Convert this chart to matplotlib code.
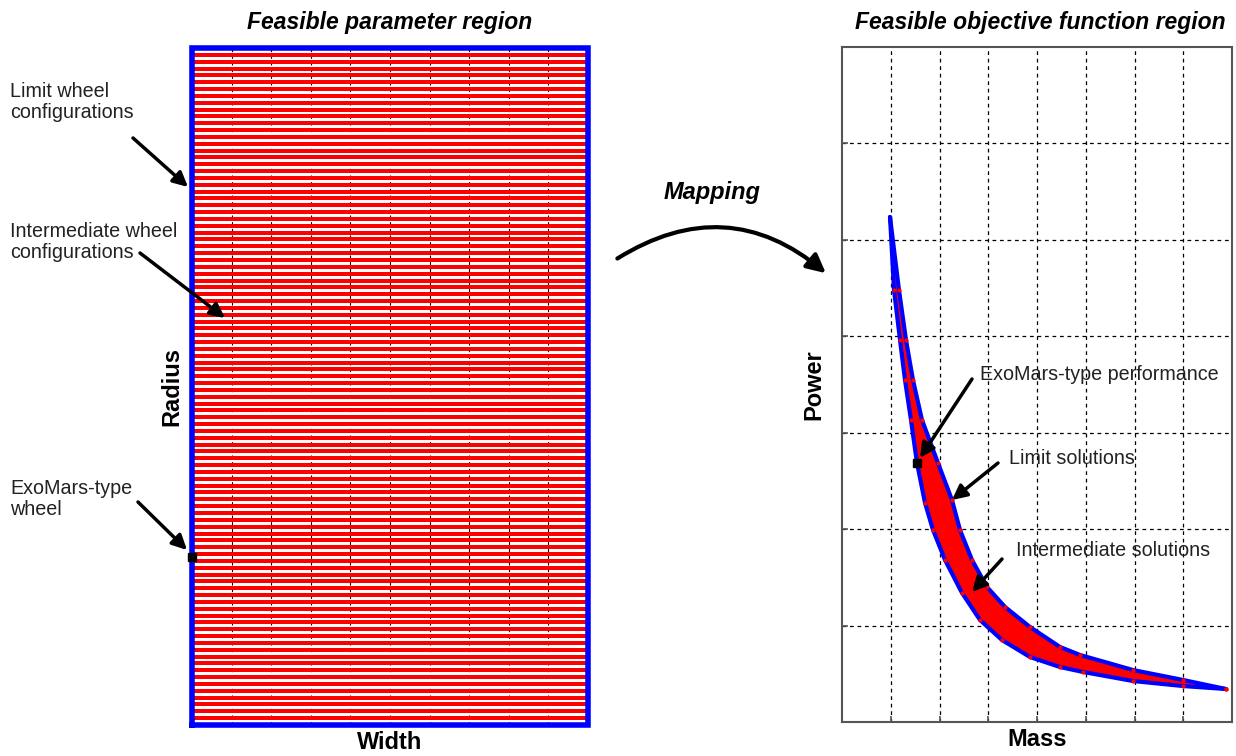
import numpy as np
import matplotlib
matplotlib.use('Agg')
import matplotlib.pyplot as plt
from matplotlib.patches import FancyArrowPatch

plt.rcParams['font.family'] = ['Liberation Sans', 'DejaVu Sans']

W, H = 1236, 756

# parameter sweep (width x radius), sampled on a regular grid
n_width = 100
n_radius = 100
width_range = (0.0, 10.0)
radius_range = (0.0, 10.0)
exomars_param = (0.0, 2.48)

# feasible objective region, boundaries (mass, power)
lower_mass = [0.985, 1.067, 1.190, 1.292, 1.415, 1.538, 1.703, 1.867, 2.113,
              2.462, 2.831, 3.282, 3.856, 4.472, 4.944, 5.969, 6.995, 7.877]
lower_power = [5.237, 4.480, 3.961, 3.547, 3.132, 2.686, 2.271, 1.991, 1.680,
               1.338, 1.058, 0.850, 0.674, 0.570, 0.519, 0.425, 0.373, 0.342]
upper_mass = [0.985, 1.169, 1.313, 1.456, 1.641, 1.969, 2.256, 2.421, 2.667,
              2.974, 3.344, 3.856, 4.472, 4.882, 5.969, 6.995, 7.877]
upper_power = [5.237, 4.480, 3.961, 3.547, 3.132, 2.686, 2.302, 1.991, 1.680,
               1.400, 1.193, 0.985, 0.778, 0.695, 0.539, 0.436, 0.342]
exomars_obj = (1.54, 2.69)

txt_color = '#222222'


def fp(x, y):
    # pixel (from top-left) -> figure fraction
    return (x / W, 1 - y / H)


fig = plt.figure(figsize=(W / 100, H / 100), dpi=100)

# ---- left panel: parameter region
ax1 = fig.add_axes([192 / W, 1 - 725 / H, 396 / W, 677 / H])
wv = np.linspace(*width_range, n_width)
rv = np.linspace(*radius_range, n_radius)
WW, RR = np.meshgrid(wv, rv)
for gx in range(1, 10):
    ax1.axvline(gx, color='black', linestyle=(0, (3, 3)), lw=0.8, zorder=1)
ax1.plot(WW.ravel(), RR.ravel(), 's', color='#ff0000', markersize=2.3,
         markeredgewidth=0, zorder=2)
bx = [wv[0], wv[-1], wv[-1], wv[0], wv[0]]
by = [rv[0], rv[0], rv[-1], rv[-1], rv[0]]
ax1.plot(bx, by, color='blue', lw=4, clip_on=False, zorder=4,
         solid_joinstyle='miter')
ax1.plot(*exomars_param, 's', color='black', markersize=6, clip_on=False, zorder=5)
ax1.set_xlim(*width_range)
ax1.set_ylim(*radius_range)
ax1.set_xticks([])
ax1.set_yticks([])
for s in ax1.spines.values():
    s.set_visible(False)
ax1.set_xlabel('Width', fontsize=17, fontweight='bold', labelpad=4)
ax1.set_ylabel('Radius', fontsize=17, fontweight='bold', labelpad=6)

# ---- right panel: objective region
ax2 = fig.add_axes([842 / W, 1 - 722 / H, 390 / W, 675 / H])
poly_x = lower_mass + upper_mass[::-1]
poly_y = lower_power + upper_power[::-1]
ax2.fill(poly_x, poly_y, color='red', lw=0, zorder=2)
ax2.plot(lower_mass, lower_power, color='blue', lw=3.0, zorder=3,
         solid_capstyle='round', solid_joinstyle='round')
ax2.plot(upper_mass, upper_power, color='blue', lw=3.0, zorder=3,
         solid_capstyle='round', solid_joinstyle='round')
ax2.plot(lower_mass[1:] + upper_mass[1:], lower_power[1:] + upper_power[1:], 'o',
         color='red', markersize=3, markeredgewidth=0, zorder=4)
ax2.plot(*exomars_obj, 's', color='black', markersize=6, zorder=5)
ax2.set_xlim(0, 8)
ax2.set_ylim(0, 7)
ax2.set_xticks(range(1, 8))
ax2.set_yticks(range(1, 7))
ax2.tick_params(direction='in', length=4, width=1.2, color='#555555',
                labelbottom=False, labelleft=False)
ax2.grid(True, color='black', linestyle=(0, (3, 3)), lw=0.9)
for s in ax2.spines.values():
    s.set_color('#555555')
    s.set_linewidth(1.5)
ax2.set_xlabel('Mass', fontsize=17, fontweight='bold', labelpad=4)
ax2.set_ylabel('Power', fontsize=17, fontweight='bold', labelpad=12)

# ---- titles
fig.text(*fp(390, 22), 'Feasible parameter region', fontsize=16.5,
         fontweight='bold', style='italic', ha='center', va='center')
fig.text(*fp(1040, 22), 'Feasible objective function region', fontsize=16.5,
         fontweight='bold', style='italic', ha='center', va='center')
fig.text(*fp(712, 192), 'Mapping', fontsize=17, fontweight='bold',
         style='italic', ha='center', va='center')

# ---- mapping arrow
fig.patches.append(FancyArrowPatch(fp(615, 260), fp(828, 275),
                                   transform=fig.transFigure,
                                   connectionstyle='arc3,rad=-0.37',
                                   arrowstyle='-|>', mutation_scale=28,
                                   lw=3, color='black'))

arrow_kw = dict(arrowstyle='-|>', lw=2.5, color='black', mutation_scale=22,
                shrinkA=0, shrinkB=0)

# ---- left annotations
notes_left = [
    ('Limit wheel\nconfigurations', (10, 102), (133, 138), (188, 187)),
    ('Intermediate wheel\nconfigurations', (10, 242), (140, 253), (225, 318)),
    ('ExoMars-type\nwheel', (10, 499), (138, 502), (187, 550)),
]
for label, tpos, tail, head in notes_left:
    fig.text(*fp(*tpos), label, fontsize=14.2, color=txt_color,
             ha='left', va='center', linespacing=1.15)
    fig.add_artist(FancyArrowPatch(fp(*tail), fp(*head),
                                   transform=fig.transFigure, **arrow_kw))

# ---- right annotations
notes_right = [
    ('ExoMars-type performance', (980, 375), (972, 379), (920, 458)),
    ('Limit solutions', (1009, 458), (998, 463), (952, 500)),
    ('Intermediate solutions', (1016, 550), (1002, 559), (972, 592)),
]
for label, tpos, tail, head in notes_right:
    fig.text(*fp(*tpos), label, fontsize=14.2, color=txt_color,
             ha='left', va='center')
    fig.add_artist(FancyArrowPatch(fp(*tail), fp(*head),
                                   transform=fig.transFigure, **arrow_kw))

fig.savefig('out.png', dpi=100)
